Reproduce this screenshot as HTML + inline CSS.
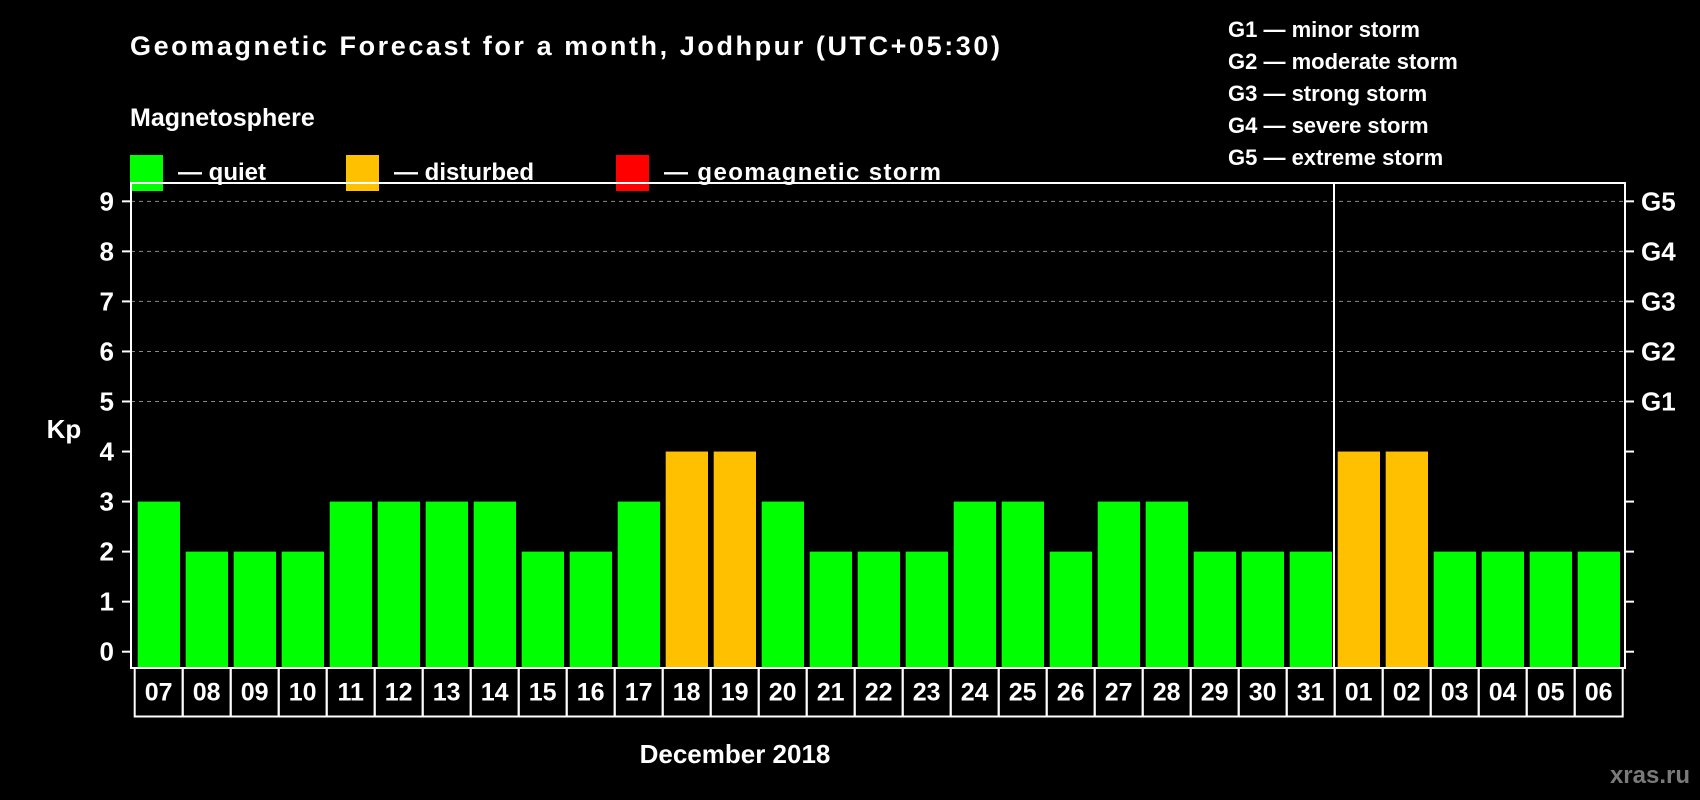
<!DOCTYPE html>
<html><head><meta charset="utf-8"><style>
html,body{margin:0;padding:0;background:#000;}
svg{display:block;font-family:"Liberation Sans",Arial,sans-serif;font-weight:bold;}
</style></head><body>
<svg id="chart" width="1700" height="800" viewBox="0 0 1700 800">
<rect x="0" y="0" width="1700" height="800" fill="#000"/>
<text x="130" y="55" font-size="27" fill="#fff" textLength="870">Geomagnetic Forecast for a month, Jodhpur (UTC+05:30)</text>
<text x="130" y="126" font-size="25" fill="#fff">Magnetosphere</text>
<g>
<rect x="130" y="155" width="33" height="36" fill="#00ff00"/>
<text x="178" y="180" font-size="24" fill="#fff">— quiet</text></g>
<g>
<rect x="346" y="155" width="33" height="36" fill="#ffc000"/>
<text x="394" y="180" font-size="24" fill="#fff">— disturbed</text></g>
<g>
<rect x="616" y="155" width="33" height="36" fill="#ff0000"/>
<text x="664" y="180" font-size="24" fill="#fff" textLength="277">— geomagnetic storm</text></g>
<g font-size="22" fill="#fff">
<text x="1228" y="37">G1 — minor storm</text>
<text x="1228" y="69">G2 — moderate storm</text>
<text x="1228" y="101">G3 — strong storm</text>
<text x="1228" y="133">G4 — severe storm</text>
<text x="1228" y="165">G5 — extreme storm</text>
</g>
<g id="grid"></g>
<g id="bars"></g>
<g id="axes"></g>
<text x="64" y="438" font-size="26" fill="#fff" text-anchor="middle">Kp</text>
<text x="735" y="763" font-size="26" fill="#fff" text-anchor="middle">December 2018</text>
<text x="1690" y="783" font-size="24" fill="#7a7a7a" text-anchor="end">xras.ru</text>
</svg>
<script>
const days = ["07","08","09","10","11","12","13","14","15","16","17","18","19","20","21","22","23","24","25","26","27","28","29","30","31","01","02","03","04","05","06"];
const kpValues = [3,2,2,2,3,3,3,3,2,2,3,4,4,3,2,2,2,3,3,2,3,3,2,2,2,4,4,2,2,2,2];
const yTicks = [0,1,2,3,4,5,6,7,8,9];
const gLabels = ["","","","","","G1","G2","G3","G4","G5"];
const monthBreakIndex = 25;

const NS = "http://www.w3.org/2000/svg";
const plotL = 131, plotR = 1625, plotT = 183, plotB = 668;
const y0 = 651.7, unit = 50.04;
const firstX = 134.7, pitch = 48;
function yScale(v){ return y0 - v*unit; }
function xScale(i){ return firstX + i*pitch; }
function mk(tag, attrs, parent){ const e=document.createElementNS(NS,tag); for(const k in attrs) e.setAttribute(k,attrs[k]); parent.appendChild(e); return e; }
const grid=document.getElementById('grid'), bars=document.getElementById('bars'), axes=document.getElementById('axes');

yTicks.forEach((t,i)=>{
  const y=yScale(t);
  if(t>=5){
    const gl=mk('line',{x1:plotL,x2:plotR,y1:y,y2:y,stroke:'#888','stroke-width':1,'stroke-dasharray':'4,4'},grid);
    
    
  }
  const tl=mk('line',{x1:plotL-9,x2:plotL,y1:y,y2:y,stroke:'#fff','stroke-width':2},axes);
  
  
  const tr=mk('line',{x1:plotR,x2:plotR+9,y1:y,y2:y,stroke:'#fff','stroke-width':2},axes);
  
  
  const lab=mk('text',{x:114,y:y+9,'font-size':26,fill:'#fff','text-anchor':'end'},axes);
  lab.textContent=String(t);
  
  
  if(gLabels[i]){
    const g=mk('text',{x:1641,y:y+9,'font-size':26,fill:'#fff'},axes);
    g.textContent=gLabels[i];
    
    
  }
});

kpValues.forEach((v,i)=>{
  const col = v>=5 ? '#ff0000' : (v>=4 ? '#ffc000' : '#00ff00');
  const top=yScale(v);
  const b=mk('rect',{x:xScale(i)+3,y:top,width:42.3,height:plotB-top,fill:col},bars);
  
  
  const box=mk('rect',{x:xScale(i),y:plotB,width:pitch,height:48.5,fill:'none',stroke:'#fff','stroke-width':2},axes);
  
  
  const t=mk('text',{x:xScale(i)+pitch/2,y:700.5,'font-size':25,fill:'#fff','text-anchor':'middle'},axes);
  t.textContent=days[i];
  
  
});

const frame=mk('rect',{x:plotL,y:plotT,width:plotR-plotL,height:plotB-plotT,fill:'none',stroke:'#fff','stroke-width':2},axes);


const sepX=xScale(monthBreakIndex)-0.7;
const sep=mk('line',{x1:sepX,x2:sepX,y1:plotT,y2:plotB,stroke:'#fff','stroke-width':2},axes);


</script>
</body></html>
